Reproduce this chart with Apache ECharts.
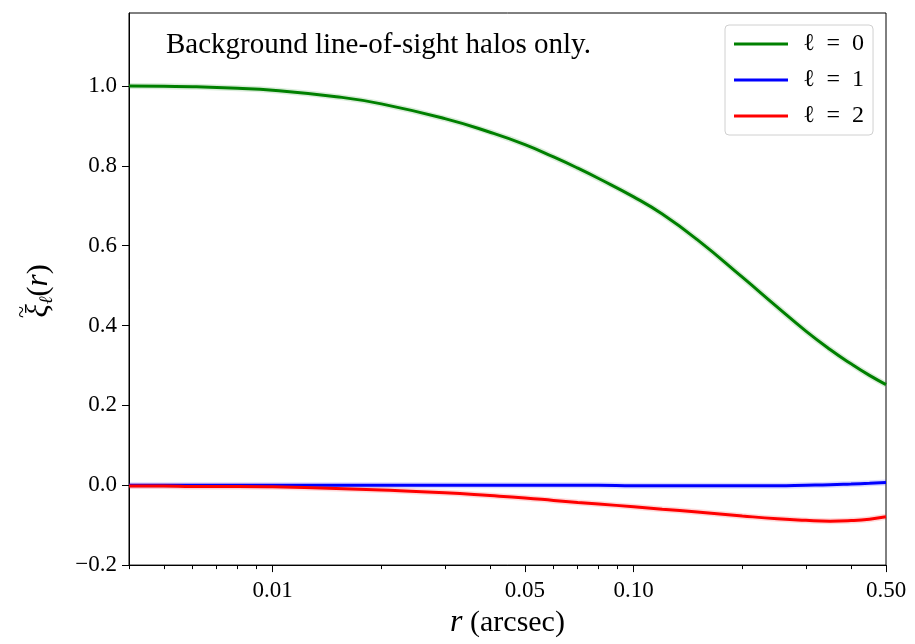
<!DOCTYPE html>
<html>
<head>
<meta charset="utf-8">
<script src="https://cdn.jsdelivr.net/npm/echarts@6/dist/echarts.min.js"></script>
<style>
  html, body { margin: 0; padding: 0; background: #fff; }
  #chart { width: 915px; height: 644px; }
</style>
</head>
<body>
<div id="chart"></div>
<script>
// Separation r in arcsec (log-spaced samples)
const rValues = [0.004, 0.005, 0.006, 0.008, 0.01, 0.015, 0.02, 0.03, 0.04, 0.05, 0.06, 0.07,
                 0.08, 0.1, 0.12, 0.15, 0.2, 0.25, 0.3, 0.35, 0.4, 0.45, 0.5];

// Multipoles of the correlation function, l = 0, 1, 2
const xiMono = [1.000, 0.999, 0.998, 0.994, 0.989, 0.973, 0.955, 0.918, 0.884, 0.853, 0.822, 0.794,
                0.768, 0.722, 0.679, 0.615, 0.521, 0.446, 0.386, 0.340, 0.304, 0.275, 0.252];
const xiDipole = [0.000, 0.000, 0.000, 0.000, 0.000, 0.000, 0.000, 0.000, 0.000, 0.000, 0.000, 0.000,
                  0.000, -0.001, -0.001, -0.001, -0.001, -0.001, 0.000, 0.001, 0.003, 0.005, 0.007];
const xiQuad = [-0.002, -0.002, -0.003, -0.003, -0.004, -0.008, -0.012, -0.019, -0.026, -0.032, -0.038, -0.043,
                -0.047, -0.054, -0.060, -0.067, -0.077, -0.084, -0.088, -0.090, -0.0885, -0.085, -0.079];

const seriesNames = ['ℓ\u2002=\u20020', 'ℓ\u2002=\u20021', 'ℓ\u2002=\u20022'];
const seriesColors = ['#008000', '#0000ff', '#ff0000'];

// Axis ticks
const xMajorTicks = [0.01, 0.05, 0.1, 0.5];
const xMajorLabels = ['0.01', '0.05', '0.10', '0.50'];
const xMinorTicks = [0.004, 0.005, 0.006, 0.007, 0.008, 0.009, 0.02, 0.03, 0.04,
                     0.06, 0.07, 0.08, 0.09, 0.2, 0.3, 0.4];
const yTicks = [-0.2, 0.0, 0.2, 0.4, 0.6, 0.8, 1.0];

const FONT = 'Liberation Serif';

function pairs(ys) {
  return rValues.map((r, i) => [r, ys[i]]);
}

const curves = [xiMono, xiDipole, xiQuad];

const series = [];
// faint envelope under each curve
curves.forEach((ys, i) => {
  series.push({
    type: 'line', data: pairs(ys), smooth: true, showSymbol: false, silent: true,
    xAxisIndex: 0, yAxisIndex: 0, z: 1,
    lineStyle: { color: seriesColors[i], width: 6, opacity: 0.15 },
    tooltip: { show: false }
  });
});
curves.forEach((ys, i) => {
  series.push({
    name: seriesNames[i], type: 'line', data: pairs(ys), smooth: true, showSymbol: false,
    xAxisIndex: 0, yAxisIndex: 0, z: 2,
    lineStyle: { color: seriesColors[i], width: 3 },
    itemStyle: { color: seriesColors[i] }
  });
});

const chart = echarts.init(document.getElementById('chart'), null, { renderer: 'canvas' });

const xBase = {
  type: 'log', logBase: 10, min: 0.004, max: 0.5, position: 'bottom',
  splitLine: { show: false }, minorTick: { show: false }, minorSplitLine: { show: false },
  axisLine: { show: true, onZero: false, lineStyle: { color: '#000', width: 1 } }
};

chart.setOption({
  animation: false,
  backgroundColor: '#fff',
  title: {
    text: 'Background line-of-sight halos only.',
    left: 161, top: 26,
    textStyle: { fontFamily: FONT, fontSize: 29, fontWeight: 'normal', color: '#000' }
  },
  grid: {
    left: 129, right: 29, top: 13, bottom: 78,
    show: true, borderColor: '#000', borderWidth: 1, backgroundColor: 'transparent'
  },
  legend: {
    data: seriesNames,
    orient: 'vertical',
    left: 725, top: 25,
    icon: 'rect', itemWidth: 54, itemHeight: 3, itemGap: 12,
    padding: [7, 9, 7, 9],
    backgroundColor: '#fff', borderColor: '#d0d0d0', borderWidth: 1, borderRadius: 4,
    textStyle: { fontFamily: FONT, fontSize: 24, color: '#000', lineHeight: 24, padding: [0, 0, 0, 10] }
  },
  // y-axis title, drawn rotated so the tilde can sit over the xi
  graphic: [{
    type: 'group', x: 39, y: 291, rotation: Math.PI / 2,
    children: [
      {
        type: 'text', x: 0, y: 0,
        style: {
          text: '{g|ξ}{s|ℓ}{n|(}{r|r}{n|)}',
          align: 'center', verticalAlign: 'middle',
          font: '30px "Liberation Serif"', fill: '#000',
          rich: {
            g: { fontFamily: FONT, fontSize: 31, fontStyle: 'italic', fill: '#000', lineHeight: 34 },
            r: { fontFamily: FONT, fontSize: 31, fontStyle: 'italic', fill: '#000', lineHeight: 34 },
            n: { fontFamily: FONT, fontSize: 30, fill: '#000', lineHeight: 34 },
            s: { fontFamily: FONT, fontSize: 19, fontStyle: 'italic', fill: '#000', lineHeight: 19, verticalAlign: 'bottom' }
          }
        }
      },
      {
        type: 'text', x: -21, y: -17,
        style: {
          text: '~', align: 'center', verticalAlign: 'middle',
          font: '22px "Liberation Serif"', fill: '#000'
        }
      }
    ]
  }],
  xAxis: [
    Object.assign({}, xBase, {
      name: '{i|r} (arcsec)', nameLocation: 'middle', nameGap: 40,
      nameTextStyle: {
        fontFamily: FONT, fontSize: 30, color: '#000',
        rich: { i: { fontFamily: FONT, fontSize: 32, fontStyle: 'italic', color: '#000' } }
      },
      axisTick: { show: true, inside: false, length: 7, lineStyle: { color: '#000', width: 1 }, customValues: xMajorTicks },
      axisLabel: {
        show: true, margin: 14, customValues: xMajorTicks,
        fontFamily: FONT, fontSize: 23, color: '#000',
        formatter: v => {
          const k = xMajorTicks.findIndex(t => Math.abs(t - v) < 1e-9);
          return k >= 0 ? xMajorLabels[k] : '';
        }
      }
    }),
    Object.assign({}, xBase, {
      axisTick: { show: true, inside: false, length: 4, lineStyle: { color: '#000', width: 1 }, customValues: xMinorTicks },
      axisLabel: { show: false }
    })
  ],
  yAxis: {
    type: 'value', min: -0.2, max: 1.1825,
    splitLine: { show: false },
    axisLine: { show: true, onZero: false, lineStyle: { color: '#000', width: 1 } },
    axisTick: { show: true, inside: false, length: 7, lineStyle: { color: '#000', width: 1 }, customValues: yTicks },
    axisLabel: {
      customValues: yTicks, margin: 12,
      fontFamily: FONT, fontSize: 23, color: '#000',
      formatter: v => (v < 0 ? '\u2212' : '') + Math.abs(v).toFixed(1)
    }
  },
  series: series
});
</script>
</body>
</html>
